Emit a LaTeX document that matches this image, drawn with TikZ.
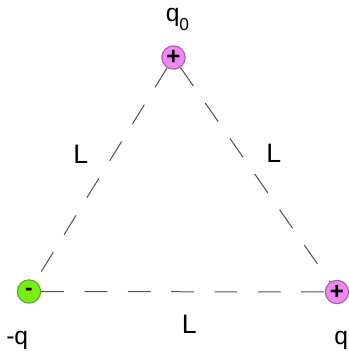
\documentclass[tikz,border=0pt]{standalone}
\usepackage{fontspec}
\setmainfont{Liberation Sans}
\definecolor{pinkfill}{RGB}{238,136,238}
\definecolor{pinkdraw}{RGB}{170,90,170}
\definecolor{greenfill}{RGB}{122,238,20}
\definecolor{greendraw}{RGB}{80,170,40}
\definecolor{linegray}{RGB}{80,80,80}
\begin{document}
\begin{tikzpicture}[x=0.75pt,y=-0.75pt,
  charge/.style={circle,inner sep=0pt,minimum size=17.5pt,line width=0.8pt},
  poscharge/.style={charge,fill=pinkfill,draw=pinkdraw,font=\fontsize{18}{18}\selectfont\bfseries},
  negcharge/.style={charge,fill=greenfill,draw=greendraw,font=\fontsize{17}{17}\selectfont\bfseries},
  lab/.style={inner sep=0pt,font=\fontsize{18.5}{18.5}\selectfont},
  llab/.style={inner sep=0pt,font=\fontsize{20}{20}\selectfont},
  dashline/.style={draw=linegray,line width=0.75pt,dash pattern=on 17pt off 15.5pt}]
\path[use as bounding box,fill=white] (0,0) rectangle (349,351);
\node[poscharge] (q0) at (173.5,57.5) {+};
\node[negcharge] (mq) at (29,291.5) {-};
\node[poscharge] (q) at (337,292) {+};
\draw[dashline] (q0) -- (mq);
\draw[dashline] (q0) -- (q);
\draw[dashline] (mq) -- (q);
\node[lab,anchor=base west] (lq0) at (165.5,21.5) {q\raisebox{-6.5pt}{\fontsize{13}{13}\selectfont 0}};
\node[lab,anchor=base west] (lmq) at (6,344.5) {-q};
\node[lab,anchor=base west] (lq) at (334,344.5) {q};
\node[llab,anchor=base west] (l1) at (73,163) {L};
\node[llab,anchor=base west] (l2) at (266,162) {L};
\node[llab,anchor=base west] (l3) at (181.5,333) {L};
\end{tikzpicture}
\end{document}
